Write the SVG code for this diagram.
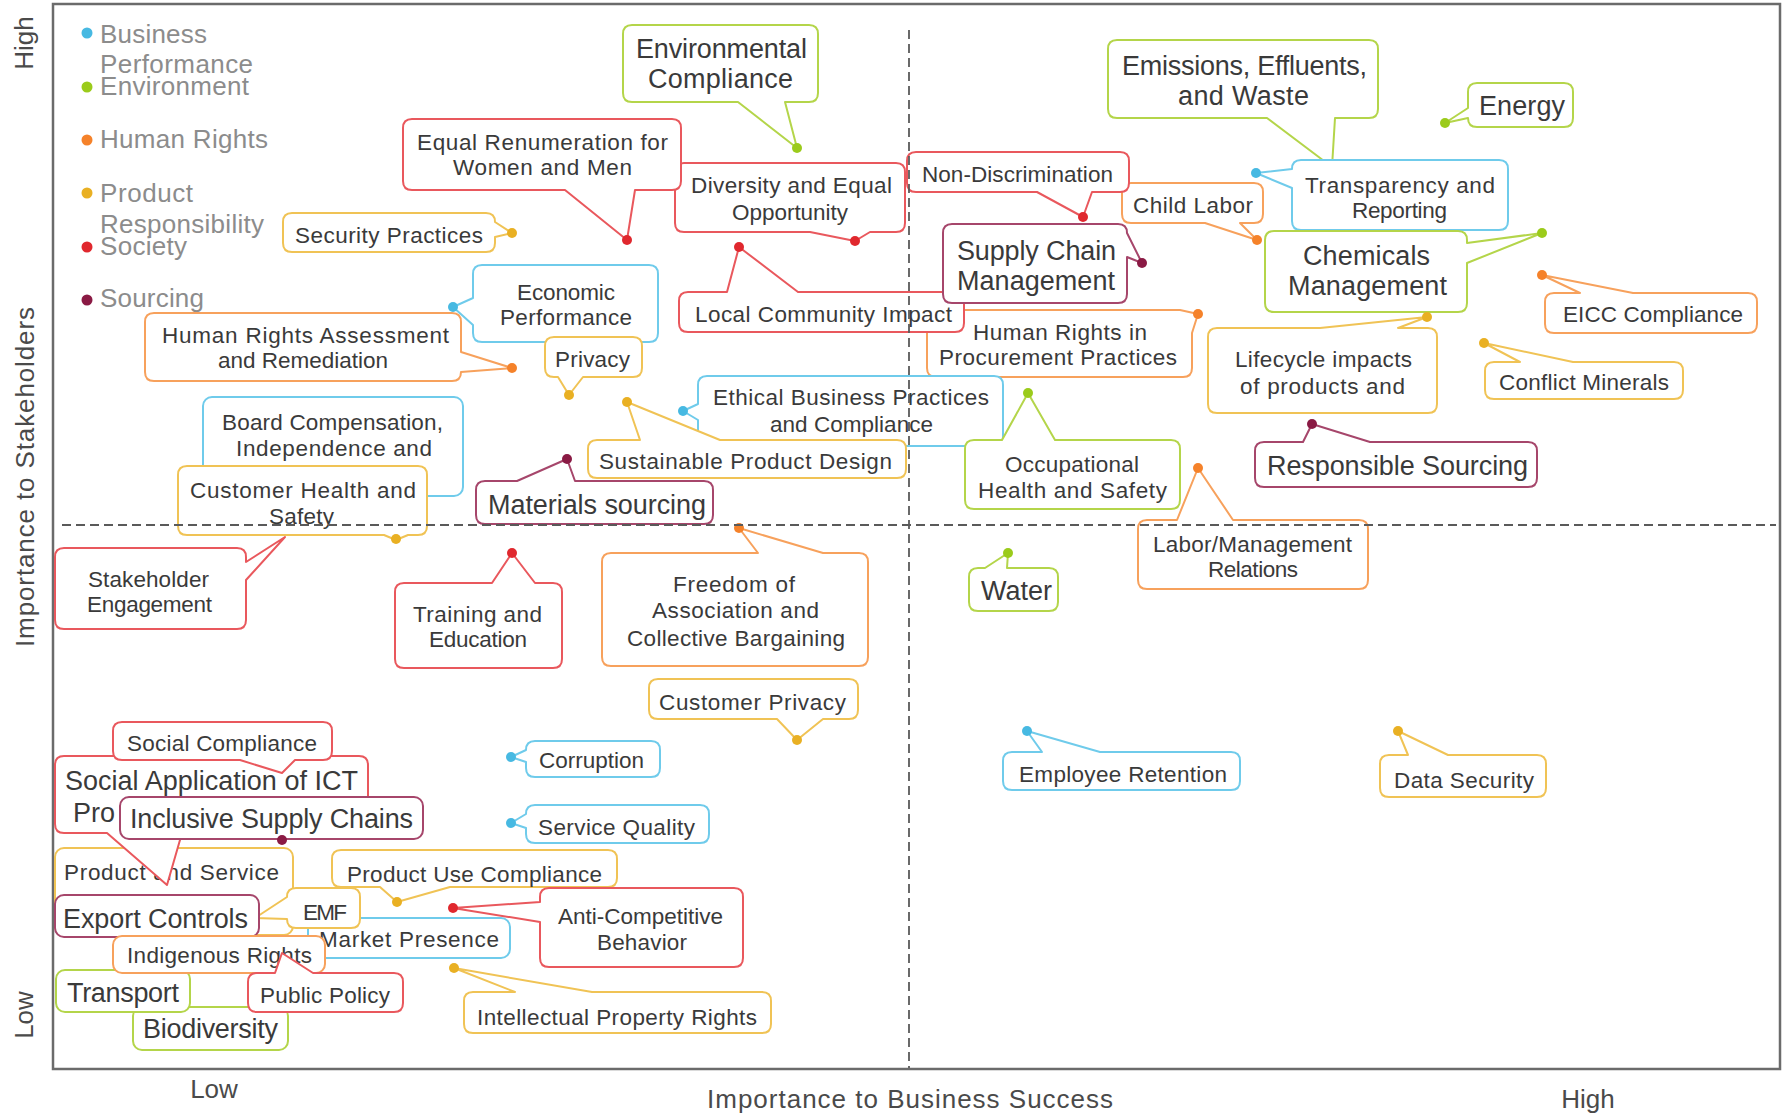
<svg xmlns="http://www.w3.org/2000/svg" width="1785" height="1116" viewBox="0 0 1785 1116">
<style>
.frame{fill:#fff;stroke:#6b6b6b;stroke-width:2.5}
.dash{fill:none;stroke:#5a5a5a;stroke-width:1.8;stroke-dasharray:9 5}
.cb{fill:#fff;stroke-width:2;stroke-linejoin:round}
.sbp{stroke:#6fcbeb}.senv{stroke:#b4d54a}.shr{stroke:#f7a15c}.spr{stroke:#f0c355}.sso{stroke:#e9585d}.ssc{stroke:#a6466b}
.dbp{fill:#47b9e2}.denv{fill:#9bcb1b}.dhr{fill:#f5822a}.dpr{fill:#e9b023}.dso{fill:#e0282e}.dsc{fill:#8a1a44}
.t{font-family:"Liberation Sans",Arial,sans-serif;font-size:22.5px;fill:#3a3a3a;text-anchor:middle}
.T{font-family:"Liberation Sans",Arial,sans-serif;font-size:27px;fill:#3a3a3a;text-anchor:middle}
.lg{font-family:"Liberation Sans",Arial,sans-serif;font-size:26px;fill:#8c8c8c}
.ax{font-family:"Liberation Sans",Arial,sans-serif;font-size:26px;fill:#4a4a4a;text-anchor:middle}
</style>
<rect width="1785" height="1116" fill="#fff"/>
<rect class="frame" x="53" y="4" width="1727" height="1065"/>

<g id="axis-labels">
<text class="ax" transform="translate(33,43) rotate(-90)">High</text>
<text class="ax" transform="translate(34,477) rotate(-90)" textLength="340">Importance to Stakeholders</text>
<text class="ax" transform="translate(33,1015) rotate(-90)">Low</text>
<text class="ax" x="214" y="1098">Low</text>
<text class="ax" x="910" y="1108" textLength="406">Importance to Business Success</text>
<text class="ax" x="1588" y="1108">High</text>
</g>

<g id="legend">
<circle class="dbp" cx="87" cy="33" r="5.5"/>
<text class="lg" x="100" y="43" textLength="107">Business</text>
<text class="lg" x="100" y="73" textLength="153">Performance</text>
<circle class="denv" cx="87" cy="87" r="5.5"/>
<text class="lg" x="100" y="95" textLength="149">Environment</text>
<circle class="dhr" cx="87" cy="140" r="5.5"/>
<text class="lg" x="100" y="148" textLength="168">Human Rights</text>
<circle class="dpr" cx="87" cy="193" r="5.5"/>
<text class="lg" x="100" y="202" textLength="93">Product</text>
<text class="lg" x="100" y="233" textLength="164">Responsibility</text>
<circle class="dso" cx="87" cy="247" r="5.5"/>
<text class="lg" x="100" y="255" textLength="87">Society</text>
<circle class="dsc" cx="87" cy="300" r="5.5"/>
<text class="lg" x="100" y="307" textLength="104">Sourcing</text>
</g>

<g id="nodes">
<g id="board-compensation">
<rect class="cb sbp" x="203" y="397" width="260" height="99" rx="9"/>
<text class="t" x="332.5" y="430" textLength="221">Board Compensation,</text>
<text class="t" x="334" y="456" textLength="196">Independence and</text>
</g>
<g id="customer-health">
<path class="cb spr" d="M187,466 L418,466 Q427,466 427,475 L427,526 Q427,535 418,535 L408,535 L396,540 L384,535 L187,535 Q178,535 178,526 L178,475 Q178,466 187,466 Z"/>
<circle class="dpr" cx="396" cy="539" r="5"/>
<text class="t" x="303" y="498" textLength="226">Customer Health and</text>
<text class="t" x="301.5" y="524" textLength="65">Safety</text>
</g>
<g id="stakeholder-engagement">
<path class="cb sso" d="M64,548 L237,548 Q246,548 246,557 L246,562 L285,537 L246,580 L246,620 Q246,629 237,629 L64,629 Q55,629 55,620 L55,557 Q55,548 64,548 Z"/>
<text class="t" x="148.5" y="587" textLength="121">Stakeholder</text>
<text class="t" x="149.5" y="612" textLength="125">Engagement</text>
</g>
<g id="environmental-compliance">
<path class="cb senv" d="M632,25 L809,25 Q818,25 818,34 L818,93 Q818,102 809,102 L785,102 L797,148 L738,102 L632,102 Q623,102 623,93 L623,34 Q623,25 632,25 Z"/>
<circle class="denv" cx="797" cy="148" r="5"/>
<text class="T" x="721.5" y="58" textLength="171">Environmental</text>
<text class="T" x="720.5" y="88" textLength="145">Compliance</text>
</g>
<g id="diversity">
<path class="cb sso" d="M684,163 L896,163 Q905,163 905,172 L905,223 Q905,232 896,232 L870,232 L855,241 L810,232 L684,232 Q675,232 675,223 L675,172 Q675,163 684,163 Z"/>
<circle class="dso" cx="855" cy="241" r="5"/>
<text class="t" x="791.5" y="193" textLength="201">Diversity and Equal</text>
<text class="t" x="790" y="220" textLength="116">Opportunity</text>
</g>
<g id="equal-renumeration">
<path class="cb sso" d="M412,119 L672,119 Q681,119 681,128 L681,181 Q681,190 672,190 L635,190 L627,240 L565,190 L412,190 Q403,190 403,181 L403,128 Q403,119 412,119 Z"/>
<circle class="dso" cx="627" cy="240" r="5"/>
<text class="t" x="542.5" y="150" textLength="251">Equal Renumeration for</text>
<text class="t" x="542.5" y="175" textLength="179">Women and Men</text>
</g>
<g id="security-practices">
<path class="cb spr" d="M292,213 L486,213 Q495,213 495,222 L512,233 L495,237 L495,243 Q495,252 486,252 L292,252 Q283,252 283,243 L283,222 Q283,213 292,213 Z"/>
<circle class="dpr" cx="512" cy="233" r="5"/>
<text class="t" x="389" y="243" textLength="188">Security Practices</text>
</g>
<g id="economic-performance">
<path class="cb sbp" d="M482,265 L649,265 Q658,265 658,274 L658,333 Q658,342 649,342 L482,342 Q473,342 473,333 L473,325 L453,307 L473,298 L473,274 Q473,265 482,265 Z"/>
<circle class="dbp" cx="453" cy="307" r="5"/>
<text class="t" x="566" y="300" textLength="98">Economic</text>
<text class="t" x="566" y="325" textLength="132">Performance</text>
</g>
<g id="human-rights-assessment">
<path class="cb shr" d="M154,313 L452,313 Q461,313 461,322 L461,352 L512,368 L461,372 Q461,381 452,381 L154,381 Q145,381 145,372 L145,322 Q145,313 154,313 Z"/>
<circle class="dhr" cx="512" cy="368" r="5"/>
<text class="t" x="305.5" y="343" textLength="287">Human Rights Assessment</text>
<text class="t" x="303" y="368" textLength="170">and Remediation</text>
</g>
<g id="privacy">
<path class="cb spr" d="M554,337 L633,337 Q642,337 642,346 L642,368 Q642,377 633,377 L583,377 L569,395 L558,377 L554,377 Q545,377 545,368 L545,346 Q545,337 554,337 Z"/>
<circle class="dpr" cx="569" cy="395" r="5"/>
<text class="t" x="592.5" y="367" textLength="75">Privacy</text>
</g>
<g id="hr-procurement">
<path class="cb shr" d="M936,310 L1180,310 L1198,314 L1192,333 L1192,368 Q1192,377 1183,377 L936,377 Q927,377 927,368 L927,319 Q927,310 936,310 Z"/>
<circle class="dhr" cx="1198" cy="314" r="5"/>
<text class="t" x="1060" y="340" textLength="174">Human Rights in</text>
<text class="t" x="1058" y="365" textLength="238">Procurement Practices</text>
</g>
<g id="local-community">
<path class="cb sso" d="M688,292 L727,292 L739,247 L798,292 L955,292 Q964,292 964,301 L964,323 Q964,332 955,332 L688,332 Q679,332 679,323 L679,301 Q679,292 688,292 Z"/>
<circle class="dso" cx="739" cy="247" r="5"/>
<text class="t" x="823.5" y="322" textLength="257">Local Community Impact</text>
</g>
<g id="supply-chain-management">
<path class="cb ssc" d="M952,224 L1118,224 Q1127,224 1127,233 L1142,263 L1127,257 L1127,294 Q1127,303 1118,303 L952,303 Q943,303 943,294 L943,233 Q943,224 952,224 Z"/>
<circle class="dsc" cx="1142" cy="263" r="5"/>
<text class="T" x="1036.5" y="260" textLength="159">Supply Chain</text>
<text class="T" x="1036" y="290" textLength="158">Management</text>
</g>
<g id="child-labor">
<path class="cb shr" d="M1131,183 L1254,183 Q1263,183 1263,192 L1263,214 Q1263,223 1254,223 L1240,223 L1257,240 L1205,223 L1131,223 Q1122,223 1122,214 L1122,192 Q1122,183 1131,183 Z"/>
<circle class="dhr" cx="1257" cy="240" r="5"/>
<text class="t" x="1193" y="213" textLength="120">Child Labor</text>
</g>
<g id="non-discrimination">
<path class="cb sso" d="M916,152 L1120,152 Q1129,152 1129,161 L1129,183 Q1129,192 1120,192 L1092,192 L1083,217 L1037,192 L916,192 Q907,192 907,183 L907,161 Q907,152 916,152 Z"/>
<circle class="dso" cx="1083" cy="217" r="5"/>
<text class="t" x="1017.5" y="182" textLength="191">Non-Discrimination</text>
</g>
<g id="emissions">
<path class="cb senv" d="M1117,40 L1369,40 Q1378,40 1378,49 L1378,109 Q1378,118 1369,118 L1335,118 L1332,167 L1267,118 L1117,118 Q1108,118 1108,109 L1108,49 Q1108,40 1117,40 Z"/>
<text class="T" x="1244.5" y="75" textLength="245">Emissions, Effluents,</text>
<text class="T" x="1243.5" y="105" textLength="131">and Waste</text>
</g>
<g id="energy">
<path class="cb senv" d="M1477,83 L1564,83 Q1573,83 1573,92 L1573,118 Q1573,127 1564,127 L1477,127 Q1468,127 1468,118 L1445,123 L1468,108 L1468,92 Q1468,83 1477,83 Z"/>
<circle class="denv" cx="1445" cy="123" r="5"/>
<text class="T" x="1522" y="115" textLength="86">Energy</text>
</g>
<g id="transparency">
<path class="cb sbp" d="M1301,160 L1499,160 Q1508,160 1508,169 L1508,221 Q1508,230 1499,230 L1301,230 Q1292,230 1292,221 L1292,188 L1256,173 L1292,169 Q1292,160 1301,160 Z"/>
<circle class="dbp" cx="1256" cy="173" r="5"/>
<text class="t" x="1400" y="193" textLength="190">Transparency and</text>
<text class="t" x="1399.5" y="218" textLength="95">Reporting</text>
</g>
<g id="chemicals">
<path class="cb senv" d="M1274,231 L1458,231 Q1467,231 1467,240 L1467,243 L1542,233 L1467,263 L1467,303 Q1467,312 1458,312 L1274,312 Q1265,312 1265,303 L1265,240 Q1265,231 1274,231 Z"/>
<circle class="denv" cx="1542" cy="233" r="5"/>
<text class="T" x="1366.5" y="265" textLength="127">Chemicals</text>
<text class="T" x="1367.5" y="295" textLength="159">Management</text>
</g>
<g id="eicc">
<path class="cb shr" d="M1554,293 L1580,293 L1542,275 L1633,293 L1748,293 Q1757,293 1757,302 L1757,324 Q1757,333 1748,333 L1554,333 Q1545,333 1545,324 L1545,302 Q1545,293 1554,293 Z"/>
<circle class="dhr" cx="1542" cy="275" r="5"/>
<text class="t" x="1653" y="322" textLength="180">EICC Compliance</text>
</g>
<g id="conflict-minerals">
<path class="cb spr" d="M1494,362 L1520,362 L1484,343 L1573,362 L1674,362 Q1683,362 1683,371 L1683,390 Q1683,399 1674,399 L1494,399 Q1485,399 1485,390 L1485,371 Q1485,362 1494,362 Z"/>
<circle class="dpr" cx="1484" cy="343" r="5"/>
<text class="t" x="1584" y="390" textLength="170">Conflict Minerals</text>
</g>
<g id="lifecycle">
<path class="cb spr" d="M1217,328 L1320,328 L1427,317 L1398,328 L1428,328 Q1437,328 1437,337 L1437,404 Q1437,413 1428,413 L1217,413 Q1208,413 1208,404 L1208,337 Q1208,328 1217,328 Z"/>
<circle class="dpr" cx="1427" cy="317" r="5"/>
<text class="t" x="1323.5" y="367" textLength="177">Lifecycle impacts</text>
<text class="t" x="1322.5" y="394" textLength="165">of products and</text>
</g>
<g id="responsible-sourcing">
<path class="cb ssc" d="M1264,442 L1303,442 L1312,424 L1370,442 L1528,442 Q1537,442 1537,451 L1537,478 Q1537,487 1528,487 L1264,487 Q1255,487 1255,478 L1255,451 Q1255,442 1264,442 Z"/>
<circle class="dsc" cx="1312" cy="424" r="5"/>
<text class="T" x="1397.5" y="475" textLength="261">Responsible Sourcing</text>
</g>
<g id="ethical-business">
<path class="cb sbp" d="M707,376 L994,376 Q1003,376 1003,385 L1003,437 Q1003,446 994,446 L707,446 Q698,446 698,437 L698,420 L683,411 L698,404 L698,385 Q698,376 707,376 Z"/>
<circle class="dbp" cx="683" cy="411" r="5"/>
<text class="t" x="851" y="405" textLength="276">Ethical Business Practices</text>
<text class="t" x="851.5" y="432" textLength="163">and Compliance</text>
</g>
<g id="sustainable-design">
<path class="cb spr" d="M597,440 L640,440 L627,402 L720,440 L897,440 Q906,440 906,449 L906,469 Q906,478 897,478 L597,478 Q588,478 588,469 L588,449 Q588,440 597,440 Z"/>
<circle class="dpr" cx="627" cy="402" r="5"/>
<text class="t" x="745.5" y="469" textLength="293">Sustainable Product Design</text>
</g>
<g id="occupational">
<path class="cb senv" d="M974,440 L1002,440 L1028,393 L1055,440 L1171,440 Q1180,440 1180,449 L1180,500 Q1180,509 1171,509 L974,509 Q965,509 965,500 L965,449 Q965,440 974,440 Z"/>
<circle class="denv" cx="1028" cy="393" r="5"/>
<text class="t" x="1072" y="472" textLength="134">Occupational</text>
<text class="t" x="1072.5" y="498" textLength="189">Health and Safety</text>
</g>
<g id="materials-sourcing">
<path class="cb ssc" d="M485,481 L517,481 L567,459 L575,481 L704,481 Q713,481 713,490 L713,515 Q713,524 704,524 L485,524 Q476,524 476,515 L476,490 Q476,481 485,481 Z"/>
<circle class="dsc" cx="567" cy="459" r="5"/>
<text class="T" x="597" y="514" textLength="218">Materials sourcing</text>
</g>
<g id="training">
<path class="cb sso" d="M404,583 L492,583 L512,553 L535,583 L553,583 Q562,583 562,592 L562,659 Q562,668 553,668 L404,668 Q395,668 395,659 L395,592 Q395,583 404,583 Z"/>
<circle class="dso" cx="512" cy="553" r="5"/>
<text class="t" x="477.5" y="622" textLength="129">Training and</text>
<text class="t" x="478" y="647" textLength="98">Education</text>
</g>
<g id="freedom-association">
<path class="cb shr" d="M611,553 L758,553 L739,528 L823,553 L859,553 Q868,553 868,562 L868,657 Q868,666 859,666 L611,666 Q602,666 602,657 L602,562 Q602,553 611,553 Z"/>
<circle class="dhr" cx="739" cy="528" r="5"/>
<text class="t" x="734" y="592" textLength="122">Freedom of</text>
<text class="t" x="735.5" y="618" textLength="167">Association and</text>
<text class="t" x="736" y="646" textLength="218">Collective Bargaining</text>
</g>
<g id="customer-privacy">
<path class="cb spr" d="M658,679 L849,679 Q858,679 858,688 L858,710 Q858,719 849,719 L823,719 L797,740 L777,719 L658,719 Q649,719 649,710 L649,688 Q649,679 658,679 Z"/>
<circle class="dpr" cx="797" cy="740" r="5"/>
<text class="t" x="752.5" y="710" textLength="187">Customer Privacy</text>
</g>
<g id="water">
<path class="cb senv" d="M978,568 L985,568 L1008,553 L1007,568 L1049,568 Q1058,568 1058,577 L1058,602 Q1058,611 1049,611 L978,611 Q969,611 969,602 L969,577 Q969,568 978,568 Z"/>
<circle class="denv" cx="1008" cy="553" r="5"/>
<text class="T" x="1016.5" y="600" textLength="71">Water</text>
</g>
<g id="labor-management">
<path class="cb shr" d="M1147,520 L1177,520 L1198,468 L1233,520 L1359,520 Q1368,520 1368,529 L1368,580 Q1368,589 1359,589 L1147,589 Q1138,589 1138,580 L1138,529 Q1138,520 1147,520 Z"/>
<circle class="dhr" cx="1198" cy="468" r="5"/>
<text class="t" x="1252.5" y="552" textLength="199">Labor/Management</text>
<text class="t" x="1253" y="577" textLength="90">Relations</text>
</g>
<g id="employee-retention">
<path class="cb sbp" d="M1012,752 L1042,752 L1027,731 L1100,752 L1231,752 Q1240,752 1240,761 L1240,781 Q1240,790 1231,790 L1012,790 Q1003,790 1003,781 L1003,761 Q1003,752 1012,752 Z"/>
<circle class="dbp" cx="1027" cy="731" r="5"/>
<text class="t" x="1123" y="782" textLength="208">Employee Retention</text>
</g>
<g id="data-security">
<path class="cb spr" d="M1389,755 L1408,755 L1398,731 L1448,755 L1537,755 Q1546,755 1546,764 L1546,788 Q1546,797 1537,797 L1389,797 Q1380,797 1380,788 L1380,764 Q1380,755 1389,755 Z"/>
<circle class="dpr" cx="1398" cy="731" r="5"/>
<text class="t" x="1464" y="788" textLength="140">Data Security</text>
</g>
<g id="corruption">
<path class="cb sbp" d="M535,741 L651,741 Q660,741 660,750 L660,768 Q660,777 651,777 L535,777 Q526,777 526,768 L526,762 L511,757 L526,750 Q526,741 535,741 Z"/>
<circle class="dbp" cx="511" cy="757" r="5"/>
<text class="t" x="591.5" y="768" textLength="105">Corruption</text>
</g>
<g id="service-quality">
<path class="cb sbp" d="M535,805 L700,805 Q709,805 709,814 L709,834 Q709,843 700,843 L535,843 Q526,843 526,834 L526,828 L511,823 L526,814 Q526,805 535,805 Z"/>
<circle class="dbp" cx="511" cy="823" r="5"/>
<text class="t" x="616.5" y="835" textLength="157">Service Quality</text>
</g>
<g id="intellectual-property">
<path class="cb spr" d="M473,992 L515,992 L454,968 L592,992 L762,992 Q771,992 771,1001 L771,1024 Q771,1033 762,1033 L473,1033 Q464,1033 464,1024 L464,1001 Q464,992 473,992 Z"/>
<circle class="dpr" cx="454" cy="968" r="5"/>
<text class="t" x="617" y="1025" textLength="280">Intellectual Property Rights</text>
</g>
<g id="product-service-labeling">
<rect class="cb spr" x="55" y="848" width="238" height="87" rx="9"/>
<text class="t" x="171.5" y="880" textLength="215">Product and Service</text>
</g>
<g id="social-application-ict">
<path class="cb sso" d="M64,756 L359,756 Q368,756 368,765 L368,824 Q368,833 359,833 L182,833 L167,885 L107,833 L64,833 Q55,833 55,824 L55,765 Q55,756 64,756 Z"/>
<text class="T" x="211.5" y="790" textLength="293">Social Application of ICT</text>
<text class="T" x="73" y="822" style="text-anchor:start">Pro</text>
</g>
<g id="social-compliance">
<path class="cb sso" d="M122,722 L323,722 Q332,722 332,731 L332,751 Q332,760 323,760 L295,760 L282,773 L240,760 L122,760 Q113,760 113,751 L113,731 Q113,722 122,722 Z"/>
<text class="t" x="222" y="751" textLength="190">Social Compliance</text>
</g>
<g id="inclusive-supply-chains">
<rect class="cb ssc" x="120" y="797" width="303" height="42" rx="9"/>
<circle class="dsc" cx="282" cy="840" r="5"/>
<text class="T" x="271.5" y="828" textLength="283">Inclusive Supply Chains</text>
</g>
<g id="biodiversity">
<rect class="cb senv" x="133" y="1007" width="155" height="43" rx="9"/>
<text class="T" x="210.5" y="1038" textLength="135">Biodiversity</text>
</g>
<g id="transport">
<rect class="cb senv" x="56" y="970" width="134" height="42" rx="9"/>
<text class="T" x="123" y="1002" textLength="112">Transport</text>
</g>
<g id="market-presence">
<rect class="cb sbp" x="308" y="918" width="202" height="40" rx="9"/>
<text class="t" x="409" y="947" textLength="180">Market Presence</text>
</g>
<g id="product-use-compliance">
<path class="cb spr" d="M341,850 L608,850 Q617,850 617,859 L617,878 Q617,887 608,887 L450,887 L397,902 L380,887 L341,887 Q332,887 332,878 L332,859 Q332,850 341,850 Z"/>
<circle class="dpr" cx="397" cy="902" r="5"/>
<text class="t" x="474.5" y="882" textLength="255">Product Use Compliance</text>
</g>
<g id="emf">
<path class="cb spr" d="M296,888 L351,888 Q360,888 360,897 L360,919 Q360,928 351,928 L296,928 Q287,928 287,919 L255,918 L287,897 Q287,888 296,888 Z"/>
<text class="t" x="325" y="920" textLength="44">EMF</text>
</g>
<g id="export-controls">
<rect class="cb ssc" x="55" y="895" width="204" height="42" rx="9"/>
<text class="T" x="155.5" y="928" textLength="185">Export Controls</text>
</g>
<g id="indigenous-rights">
<rect class="cb shr" x="113" y="936" width="212" height="37" rx="9"/>
<text class="t" x="219.5" y="963" textLength="185">Indigenous Rights</text>
</g>
<g id="public-policy">
<path class="cb sso" d="M257,973 L275,973 L282,953 L313,973 L394,973 Q403,973 403,982 L403,1003 Q403,1012 394,1012 L257,1012 Q248,1012 248,1003 L248,982 Q248,973 257,973 Z"/>
<text class="t" x="325" y="1003" textLength="130">Public Policy</text>
</g>
<g id="anti-competitive">
<path class="cb sso" d="M549,888 L734,888 Q743,888 743,897 L743,958 Q743,967 734,967 L549,967 Q540,967 540,958 L540,922 L453,908 L540,902 L540,897 Q540,888 549,888 Z"/>
<circle class="dso" cx="453" cy="908" r="5"/>
<text class="t" x="640.5" y="924" textLength="165">Anti-Competitive</text>
<text class="t" x="642" y="950" textLength="90">Behavior</text>
</g>
</g>

<g id="connectors">
<line class="dash" x1="909" y1="30" x2="909" y2="1068"/>
<line class="dash" x1="62" y1="525" x2="1776" y2="525"/>
</g>
</svg>
